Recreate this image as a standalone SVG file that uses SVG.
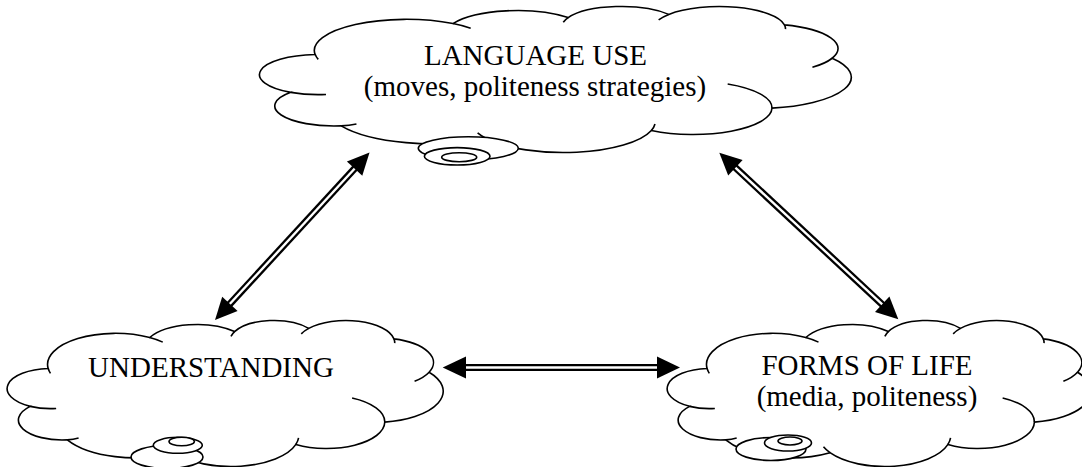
<svg xmlns="http://www.w3.org/2000/svg" xmlns:xlink="http://www.w3.org/1999/xlink" width="1082" height="467" viewBox="0 0 1082 467">
  <style>
    .cl { fill: #ffffff; stroke: #000000; stroke-width: 1.6; vector-effect: non-scaling-stroke; }
    .tl { fill: none; stroke: #000000; stroke-width: 1.6; vector-effect: non-scaling-stroke; }
    .bub { fill: #ffffff; stroke: #000000; stroke-width: 1.6; }
    .lbl { font-family: "Liberation Serif", "Times New Roman", serif; font-size: 29px; fill: #000000; text-anchor: middle; }
    .shaft-o { stroke: #000000; stroke-width: 7; fill: none; }
    .shaft-i { stroke: #ffffff; stroke-width: 2.4; fill: none; }
    .head { fill: #000000; stroke: none; }
  </style>
  <defs>
    <g id="cloud">
      <path class="cl" d="M 3900 14370 A 6753 9190 0 0 1 14005 5202 A 5333 7267 0 0 1 22456 3432 A 4365 5945 0 0 1 29834 2482 A 4857 6595 0 0 1 38319 5578 A 5333 7273 0 0 1 41819 15461 A 6775 9220 0 0 1 37405 30205 A 5785 7867 0 0 1 28557 36815 A 6752 9215 0 0 1 16481 39266 A 7720 10543 0 0 1 5806 35472 A 4360 5918 0 0 1 2114 25550 A 4345 5945 0 0 1 3900 14370 Z"/>
      <path class="tl" d="M 4693 26177 A 4345 5945 0 0 1 2114 25550 M 6928 34899 A 4360 5918 0 0 1 5806 35472 M 16481 39266 A 6752 9215 0 0 1 15814 37526 M 28823 34905 A 6752 9215 0 0 1 28557 36815 M 34154 23069 A 5785 7867 0 0 1 37405 30205 M 41819 15461 A 5333 7273 0 0 1 40371 18137 M 38319 5578 A 4857 6595 0 0 1 38395 6841 M 29092 4094 A 4857 6595 0 0 1 29834 2482 M 22097 4822 A 4365 5945 0 0 1 22456 3432 M 14005 5202 A 6753 9190 0 0 1 15305 6551 M 4127 15789 A 6753 9190 0 0 1 3900 14370"/>
    </g>
  </defs>

  <g id="language-use">
    <use xlink:href="#cloud" href="#cloud" transform="translate(262,6) scale(0.0136343,0.0033796)"/>
    <ellipse class="bub" cx="468.3" cy="148.3" rx="50" ry="11.5"/>
    <ellipse class="bub" cx="457.2" cy="156.3" rx="32.8" ry="8.7"/>
    <ellipse class="bub" cx="459.2" cy="157.2" rx="17.5" ry="4.5"/>
    <text class="lbl" x="535.5" y="65">LANGUAGE USE</text>
    <text class="lbl" x="535" y="96">(moves, politeness strategies)</text>
  </g>

  <g id="understanding">
    <use xlink:href="#cloud" href="#cloud" transform="translate(9,320) scale(0.0100463,0.0033796)"/>
    <ellipse class="bub" cx="167" cy="457" rx="36" ry="11.5"/>
    <ellipse class="bub" cx="177.8" cy="445.3" rx="24.5" ry="8"/>
    <ellipse class="bub" cx="181.7" cy="441.5" rx="12.7" ry="4.3"/>
    <text class="lbl" x="211" y="377">UNDERSTANDING</text>
  </g>

  <g id="forms-of-life">
    <use xlink:href="#cloud" href="#cloud" transform="translate(669,320) scale(0.0097685,0.0033796)"/>
    <ellipse class="bub" cx="771" cy="449" rx="35" ry="11.5"/>
    <ellipse class="bub" cx="788" cy="443" rx="23.5" ry="8"/>
    <ellipse class="bub" cx="790" cy="441" rx="12" ry="4"/>
    <text class="lbl" x="867" y="375">FORMS OF LIFE</text>
    <text class="lbl" x="867" y="406">(media, politeness)</text>
  </g>

  <g id="connectors">
    <g id="arrow-understanding-language">
      <line class="shaft-o" x1="228.6" y1="305.3" x2="355.9" y2="167.2"/>
      <line class="shaft-i" x1="228.6" y1="305.3" x2="355.9" y2="167.2"/>
      <polygon class="head" points="215,320 237.6,310.9 222.2,296.7"/>
      <polygon class="head" points="369.5,152.5 362.3,175.8 346.9,161.6"/>
    </g>
    <g id="arrow-language-forms">
      <line class="shaft-o" x1="734" y1="166.3" x2="883.6" y2="305.7"/>
      <line class="shaft-i" x1="734" y1="166.3" x2="883.6" y2="305.7"/>
      <polygon class="head" points="719.3,152.7 728.2,175.4 742.6,160"/>
      <polygon class="head" points="898.3,319.3 875,312 889.4,296.6"/>
    </g>
    <g id="arrow-understanding-forms">
      <line class="shaft-o" x1="464" y1="367.5" x2="659" y2="367.5"/>
      <line class="shaft-i" x1="464" y1="367.5" x2="659" y2="367.5"/>
      <polygon class="head" points="442.7,367.5 466,356.5 466,378.5"/>
      <polygon class="head" points="680,367.5 657,356.5 657,378.5"/>
    </g>
  </g>
</svg>
